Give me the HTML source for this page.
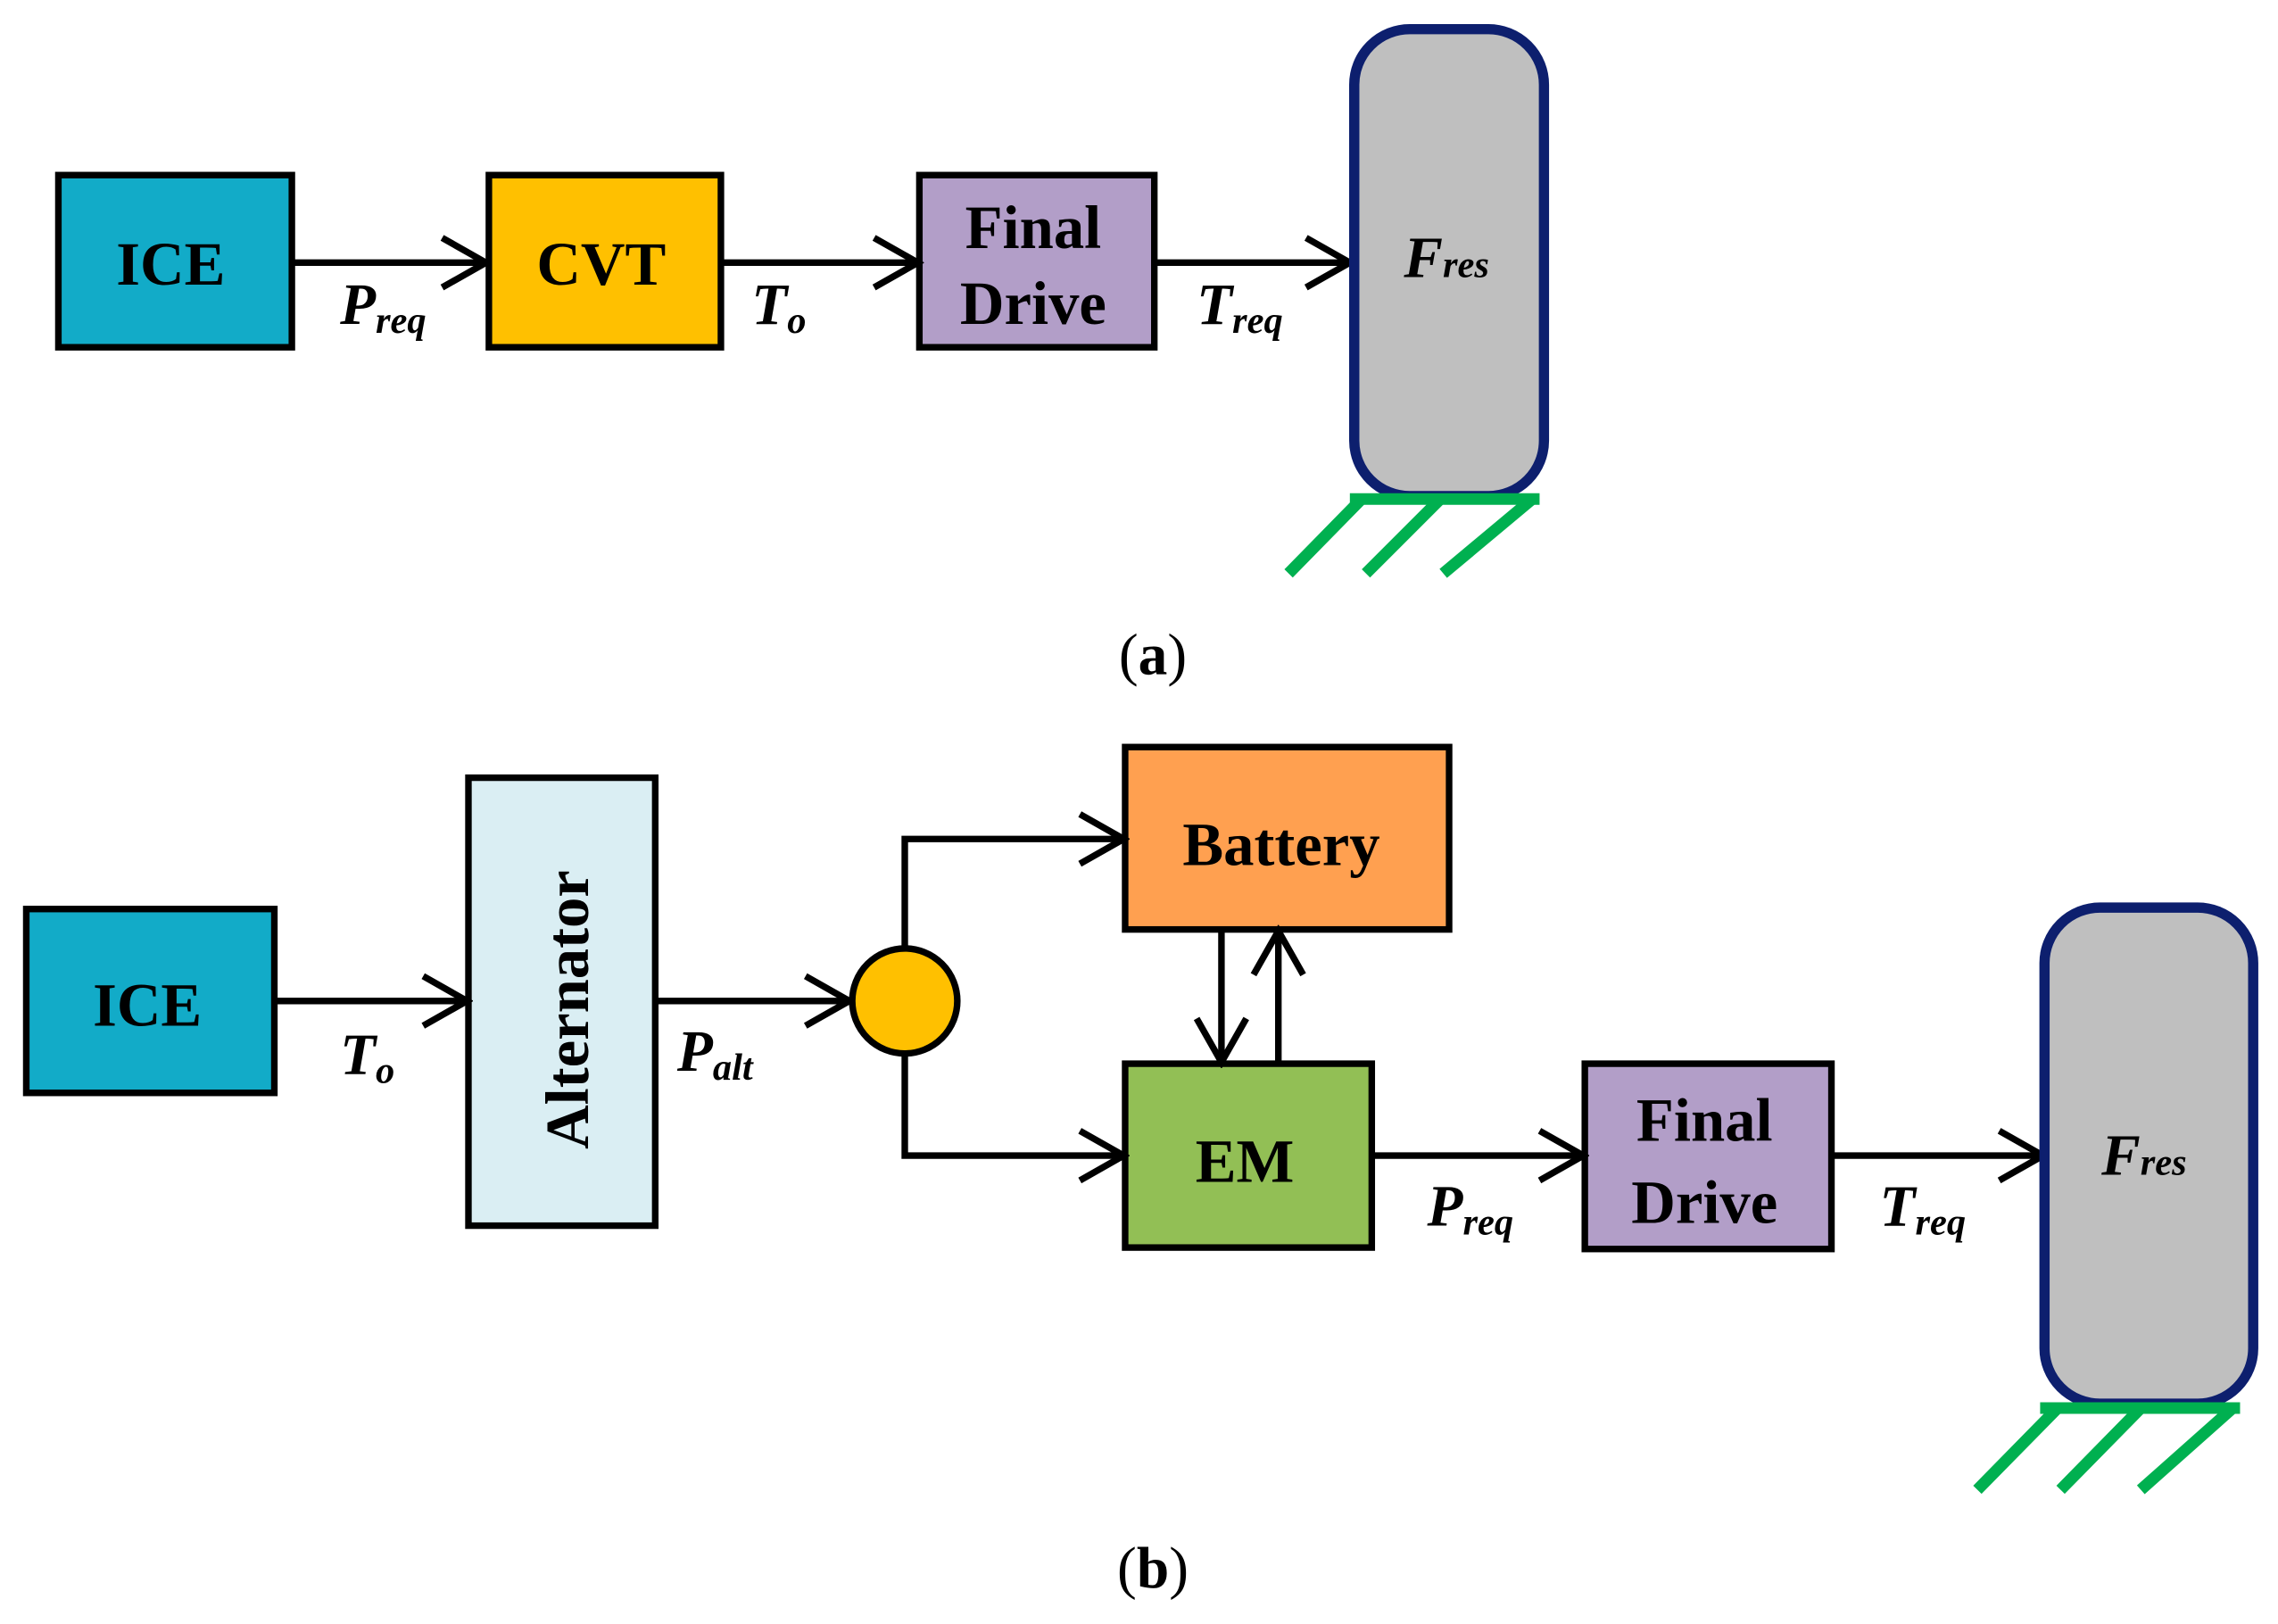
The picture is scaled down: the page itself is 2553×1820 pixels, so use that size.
<!DOCTYPE html>
<html><head><meta charset="utf-8"><style>
html,body{margin:0;padding:0;background:#fff;}
svg{display:block;}
text{font-family:"Liberation Serif",serif;font-weight:bold;}
</style></head><body>
<svg width="2553" height="1820" viewBox="0 0 1561 1113" preserveAspectRatio="none" xmlns="http://www.w3.org/2000/svg">
<defs>
<marker id="ah" markerWidth="40" markerHeight="40" refX="36" refY="20" orient="auto" markerUnits="userSpaceOnUse">
<path d="M6,3 L36,20 L6,37" fill="none" stroke="#000" stroke-width="4.5"/>
</marker>
</defs>
<g stroke="#000" stroke-width="4.5">
<rect x="40" y="120" width="160" height="118" fill="#12abc8"/>
<rect x="335" y="120" width="159" height="118" fill="#ffc000"/>
<rect x="630" y="120" width="161" height="118" fill="#b29ec8"/>
<line x1="200" y1="180" x2="333" y2="180" marker-end="url(#ah)"/>
<line x1="494" y1="180" x2="629" y2="180" marker-end="url(#ah)"/>
<line x1="791" y1="180" x2="925" y2="180" marker-end="url(#ah)"/>
</g>
<rect x="928" y="20" width="130" height="320" rx="38" fill="#bfbfbf" stroke="#0d1f6e" stroke-width="7"/>
<g stroke="#00b050" stroke-width="8">
<line x1="925" y1="342" x2="1055" y2="342"/>
<line x1="883" y1="393" x2="933" y2="342"/>
<line x1="936" y1="393" x2="987" y2="342"/>
<line x1="989" y1="393" x2="1050" y2="342"/>
</g>
<g font-size="42" text-anchor="middle">
<text x="117" y="195">ICE</text>
<text x="412" y="195">CVT</text>
<text x="708" y="170">Final</text>
<text x="708" y="222">Drive</text>
</g>
<g font-size="40" font-style="italic">
<text x="233" y="222">P<tspan font-size="26" dy="6">req</tspan></text>
<text x="515" y="222">T<tspan font-size="26" dy="6">o</tspan></text>
<text x="820" y="222">T<tspan font-size="26" dy="6">req</tspan></text>
<text x="962" y="190">F<tspan font-size="26" dy="0">res</tspan></text>
</g>
<text x="790" y="462" font-size="40" text-anchor="middle" style="font-weight:normal">(<tspan font-weight="bold">a</tspan>)</text>

<g stroke="#000" stroke-width="4.5">
<rect x="18" y="623" width="170" height="126" fill="#12abc8"/>
<rect x="321" y="533" width="128" height="307" fill="#daeef3"/>
<rect x="771" y="512" width="222" height="125" fill="#ffa050"/>
<rect x="771" y="729" width="169" height="126" fill="#92bf55"/>
<rect x="1086" y="729" width="169" height="127" fill="#b29ec8"/>
<line x1="188" y1="686" x2="320" y2="686" marker-end="url(#ah)"/>
<line x1="449" y1="686" x2="582" y2="686" marker-end="url(#ah)"/>
<circle cx="620" cy="686" r="36" fill="#ffc000"/>
<polyline points="620,650 620,575 770,575" fill="none" marker-end="url(#ah)"/>
<polyline points="620,722 620,792 770,792" fill="none" marker-end="url(#ah)"/>
<line x1="837" y1="637" x2="837" y2="728" marker-end="url(#ah)"/>
<line x1="876" y1="729" x2="876" y2="638" marker-end="url(#ah)"/>
<line x1="940" y1="792" x2="1085" y2="792" marker-end="url(#ah)"/>
<line x1="1255" y1="792" x2="1400" y2="792" marker-end="url(#ah)"/>
</g>
<rect x="1401" y="622" width="143" height="340" rx="38" fill="#bfbfbf" stroke="#0d1f6e" stroke-width="7"/>
<g stroke="#00b050" stroke-width="8">
<line x1="1398" y1="965" x2="1535" y2="965"/>
<line x1="1355" y1="1021" x2="1410" y2="965"/>
<line x1="1412" y1="1021" x2="1467" y2="965"/>
<line x1="1467" y1="1021" x2="1530" y2="965"/>
</g>
<g font-size="42" text-anchor="middle">
<text x="101" y="703">ICE</text>
<text x="878" y="593">Battery</text>
<text x="853" y="810">EM</text>
<text x="1168" y="782">Final</text>
<text x="1168" y="838">Drive</text>
<text transform="translate(403,692) rotate(-90)">Alternator</text>
</g>
<g font-size="40" font-style="italic">
<text x="233" y="736">T<tspan font-size="26" dy="6">o</tspan></text>
<text x="464" y="734">P<tspan font-size="26" dy="6">alt</tspan></text>
<text x="978" y="840">P<tspan font-size="26" dy="6">req</tspan></text>
<text x="1288" y="840">T<tspan font-size="26" dy="6">req</tspan></text>
<text x="1440" y="805">F<tspan font-size="26">res</tspan></text>
</g>
<text x="790" y="1088" font-size="40" text-anchor="middle" style="font-weight:normal">(<tspan font-weight="bold">b</tspan>)</text>
</svg>
</body></html>
